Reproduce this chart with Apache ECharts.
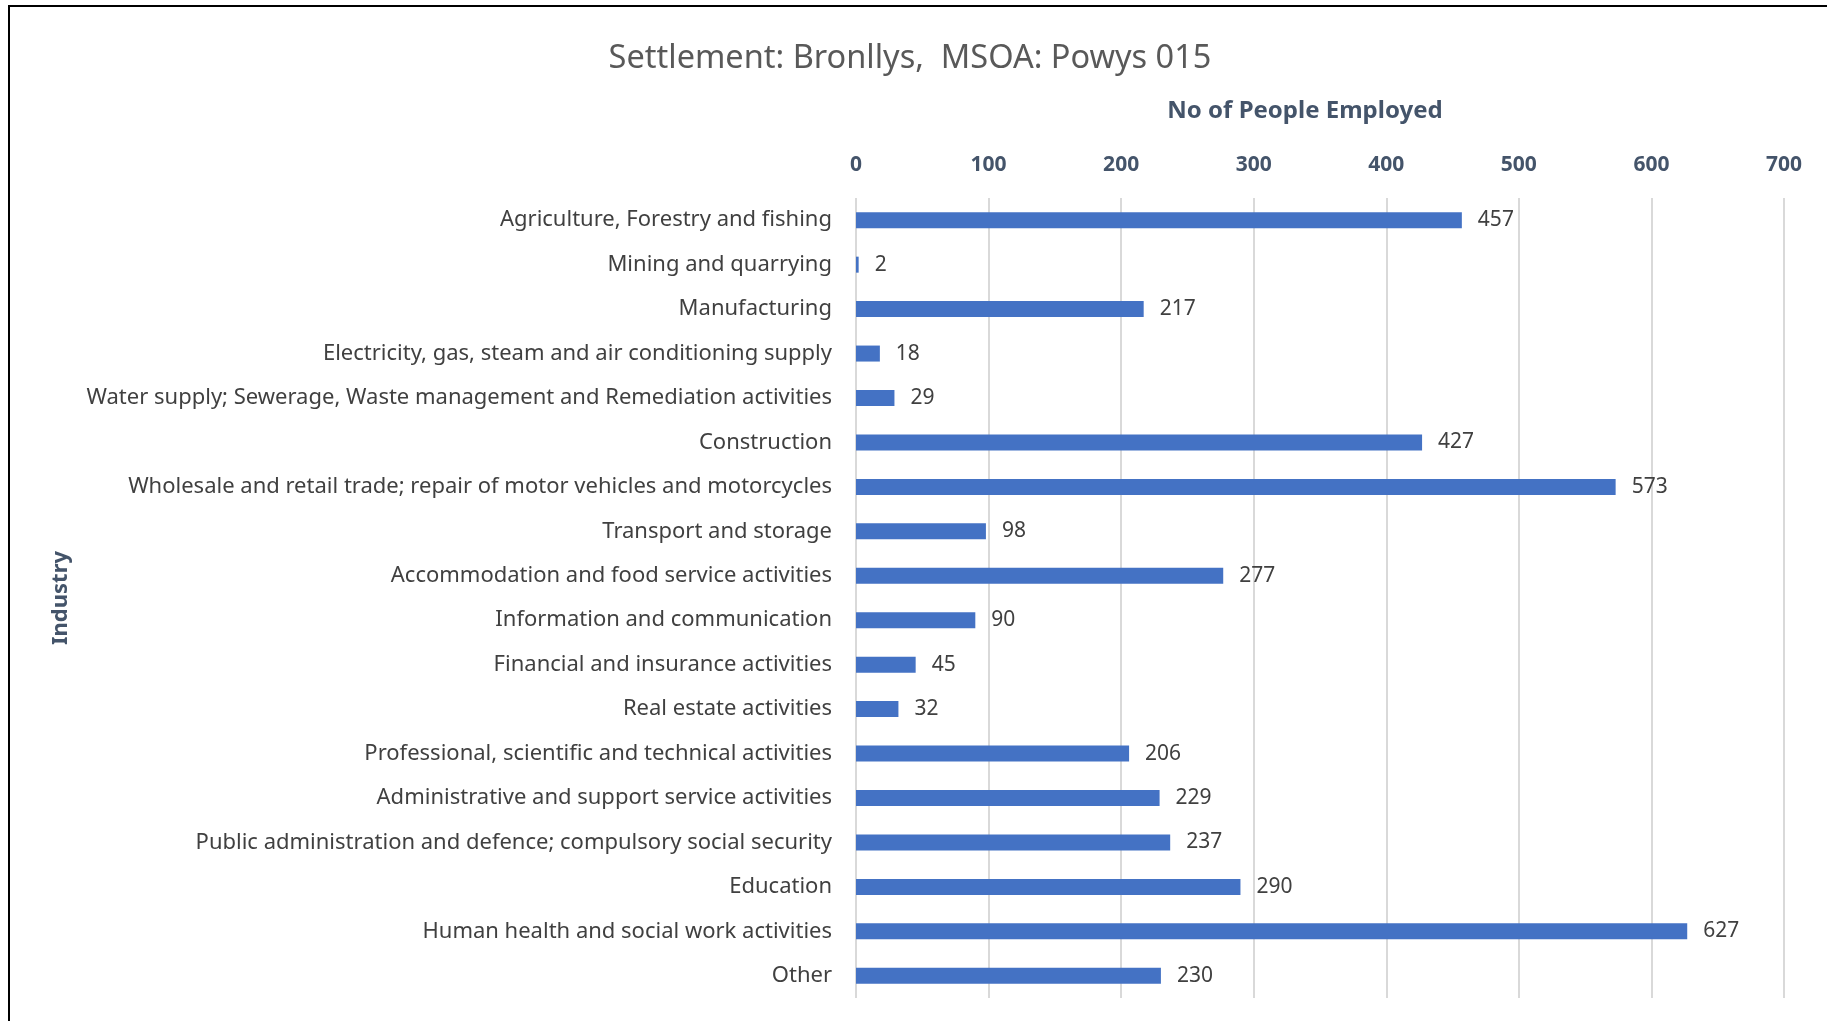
<!DOCTYPE html>
<html><head><meta charset="utf-8">
<script src="https://cdn.jsdelivr.net/npm/echarts@6/dist/echarts.min.js"></script>
<style>html,body{margin:0;padding:0;background:#fff}#c{width:1827px;height:1021px}</style>
</head><body><div id="c"></div>
<script>
const categories = [
  "Agriculture, Forestry and fishing",
  "Mining and quarrying",
  "Manufacturing",
  "Electricity, gas, steam and air conditioning supply",
  "Water supply; Sewerage, Waste management and Remediation activities",
  "Construction",
  "Wholesale and retail trade; repair of motor vehicles and motorcycles",
  "Transport and storage",
  "Accommodation and food service activities",
  "Information and communication",
  "Financial and insurance activities",
  "Real estate activities",
  "Professional, scientific and technical activities",
  "Administrative and support service activities",
  "Public administration and defence; compulsory social security",
  "Education",
  "Human health and social work activities",
  "Other"
];
const employed = [457, 2, 217, 18, 29, 427, 573, 98, 277, 90, 45, 32, 206, 229, 237, 290, 627, 230];
const titleText = "Settlement: Bronllys,  MSOA: Powys 015";
const xAxisName = "No of People Employed";
const yAxisName = "Industry";

const chart = echarts.init(document.getElementById('c'), null, {renderer: 'canvas'});
const FONT = "Noto Sans";
chart.setOption({
  animation: false,
  backgroundColor: '#fff',
  title: {
    text: titleText, left: 905, top: 37, textAlign: 'center',
    textStyle: {fontFamily: FONT, fontSize: 32.5, fontWeight: 'normal', color: '#595959'}
  },
  graphic: [{
    type: 'rect', shape: {x: 9, y: 6, width: 1900, height: 1100},
    style: {fill: 'none', stroke: '#000', lineWidth: 2}, silent: true, z: 100
  }],
  grid: {left: 856, right: 43, top: 198, bottom: 23, containLabel: false},
  xAxis: {
    type: 'value', position: 'top', min: 0, max: 700, interval: 100,
    name: xAxisName, nameLocation: 'middle', nameGap: 75,
    nameTextStyle: {fontFamily: FONT, fontSize: 24, fontWeight: 'bold', color: '#44546A', padding: [0, 30, 0, 0]},
    axisLine: {show: false}, axisTick: {show: false},
    axisLabel: {fontFamily: FONT, fontSize: 21, fontWeight: 'bold', color: '#44546A', margin: 22},
    splitLine: {show: true, lineStyle: {color: '#D9D9D9', width: 2}}
  },
  yAxis: {
    type: 'category', inverse: true, data: categories,
    name: yAxisName, nameLocation: 'middle', nameGap: 784, nameRotate: 90,
    nameTextStyle: {fontFamily: FONT, fontSize: 22, fontWeight: 'bold', color: '#44546A'},
    axisLine: {show: false}, axisTick: {show: false},
    axisLabel: {fontFamily: FONT, fontSize: 22, color: '#404040', margin: 24}
  },
  series: [{
    type: 'bar', data: employed, barWidth: 16,
    itemStyle: {color: '#4472C4'},
    label: {show: true, position: 'right', distance: 16, fontFamily: FONT, fontSize: 21, color: '#404040'}
  }]
});
</script></body></html>
